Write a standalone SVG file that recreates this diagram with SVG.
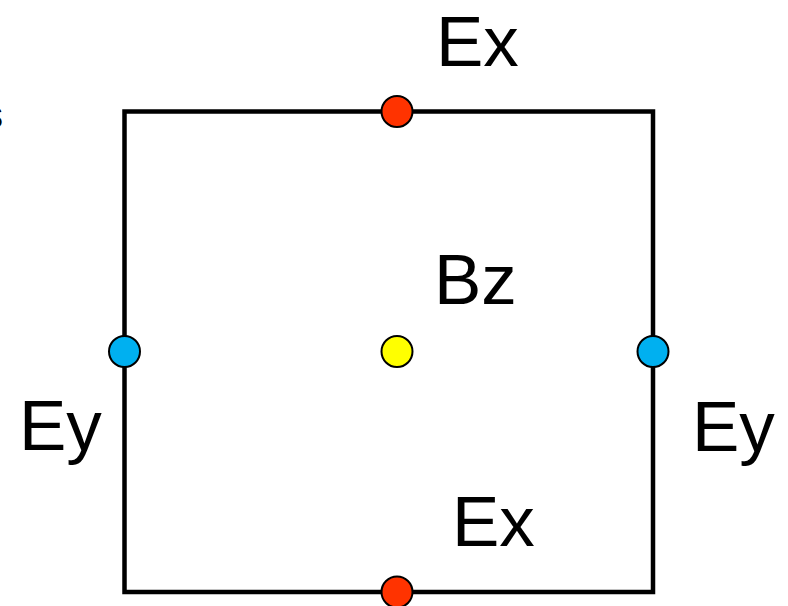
<svg xmlns="http://www.w3.org/2000/svg" width="788" height="606" viewBox="0 0 788 606">
<style>
.lbl{font-family:"Liberation Sans",Arial,sans-serif;font-size:71px;fill:#000}
.pt{stroke:#000;stroke-width:2}
</style>
<rect width="788" height="606" fill="#fff"/>
<g id="connectors">
<rect x="124.5" y="111.5" width="528.5" height="480.5" fill="none" stroke="#000" stroke-width="4.5"/>
</g>
<text class="lbl" x="-16" y="128" style="font-size:38px">s</text>
<g id="ex-top"><circle class="pt" cx="397" cy="111.5" r="15.5" fill="#FF3300"/><text class="lbl" x="436" y="66">Ex</text></g>
<g id="bz"><circle class="pt" cx="397" cy="351.5" r="15.5" fill="#FFFF00"/><text class="lbl" x="434" y="304">Bz</text></g>
<g id="ey-left"><circle class="pt" cx="124.5" cy="351.5" r="15.5" fill="#00B0F0"/><text class="lbl" x="19" y="450">Ey</text></g>
<g id="ey-right"><circle class="pt" cx="653" cy="351.5" r="15.5" fill="#00B0F0"/><text class="lbl" x="692" y="451">Ey</text></g>
<g id="ex-bottom"><circle class="pt" cx="397" cy="592" r="15.5" fill="#FF3300"/><text class="lbl" x="452" y="546">Ex</text></g>
</svg>
